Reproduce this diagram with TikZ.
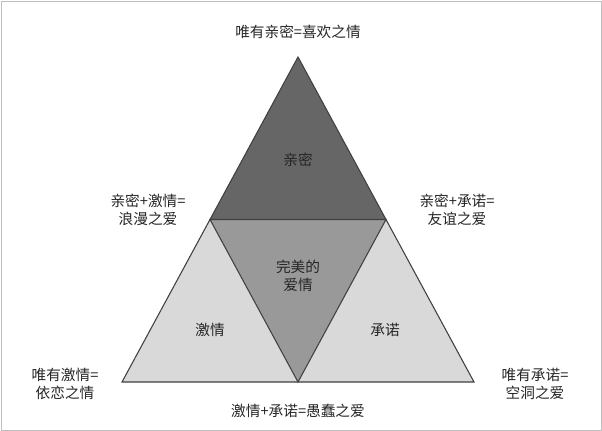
\documentclass[tikz,border=0pt]{standalone}
\usepackage{fontspec}
\setmainfont{Noto Sans CJK SC}
\begin{document}
\begin{tikzpicture}[x=0.75pt,y=-0.75pt,
  lab/.style={font=\fontsize{11}{13}\selectfont,align=center,text=black!85},
  tri/.style={draw=black!75,line width=0.8pt}]
\useasboundingbox (0,0) rectangle (602,431);
\draw[black!25] (1,1) rectangle (601,430);
\coordinate (T) at (298,57);
\coordinate (L) at (122,382);
\coordinate (R) at (474,382);
\coordinate (ML) at (210,219.5);
\coordinate (MR) at (386,219.5);
\coordinate (MB) at (298,382);
\fill[black!60] (T) -- (ML) -- (MR) -- cycle;
\fill[black!40] (ML) -- (MR) -- (MB) -- cycle;
\fill[black!15] (ML) -- (L) -- (MB) -- cycle;
\fill[black!15] (MR) -- (R) -- (MB) -- cycle;
\draw[tri] (T) -- (L) -- (R) -- cycle;
\draw[tri] (ML) -- (MR) -- (MB) -- cycle;
\node[lab] (t1) at (298,32) {唯有亲密=喜欢之情};
\node[lab] (t2) at (298,160) {亲密};
\node[lab] (t3) at (148,210) {亲密+激情=\\浪漫之爱};
\node[lab] (t4) at (457,210) {亲密+承诺=\\友谊之爱};
\node[lab] (t5) at (298,276) {完美的\\爱情};
\node[lab] (t6) at (210,330) {激情};
\node[lab] (t7) at (385,330) {承诺};
\node[lab] (t8) at (65,384) {唯有激情=\\依恋之情};
\node[lab] (t9) at (535,384) {唯有承诺=\\空洞之爱};
\node[lab] (t10) at (298,411) {激情+承诺=愚蠢之爱};
\end{tikzpicture}
\end{document}
